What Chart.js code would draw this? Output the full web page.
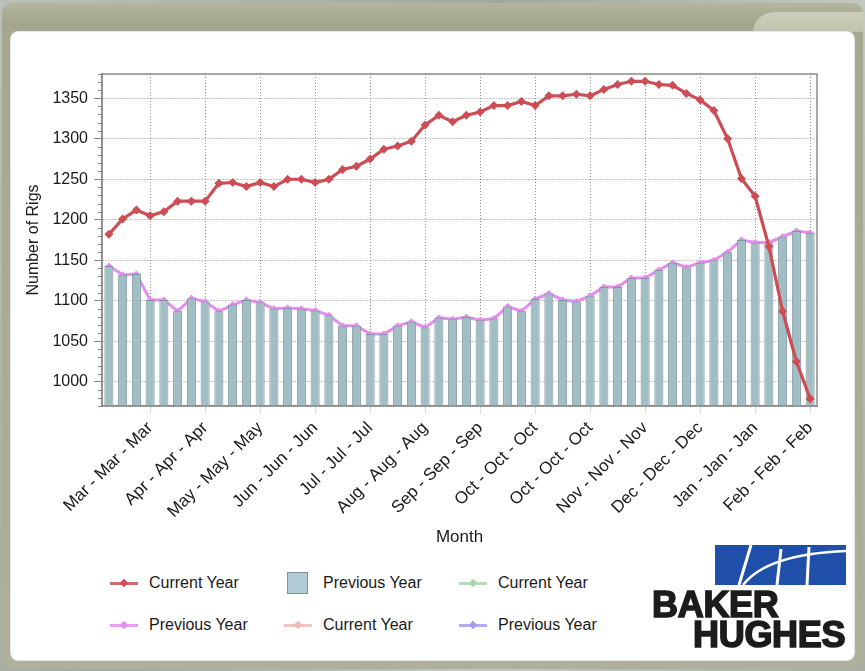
<!DOCTYPE html>
<html>
<head>
<meta charset="utf-8">
<script src="https://cdn.jsdelivr.net/npm/chart.js@4.4.1/dist/chart.umd.min.js"></script>
<style>
  html, body { margin: 0; padding: 0; }
  body {
    width: 865px; height: 671px; overflow: hidden; position: relative;
    background: linear-gradient(120deg, #b9c1b9, #9fa99f 40%, #c3c9c1 70%, #a6aea4);
    font-family: "Liberation Sans", Arial, sans-serif;
  }
  .frame {
    position: absolute; left: 2px; top: 3px; width: 861px; height: 666px;
    border-radius: 10px;
    background: linear-gradient(#b3b59e, #a2a48b 22px, #a5a790 30px, #aeb09b);
  }
  .tab {
    position: absolute; right: 0; top: 9px; width: 110px; height: 20px;
    border-top-left-radius: 22px 20px;
    background: linear-gradient(#cdcfbd, #bfc1ac);
  }
  .panel {
    position: absolute; left: 8px; top: 28px; width: 845px; height: 630px;
    background: #fff; border-radius: 8px;
    box-shadow: inset 0 0 2px rgba(0,0,0,0.35);
  }
  #chartBox { position: absolute; left: 0; top: 0; width: 865px; height: 560px; }
  #legend {
    position: absolute; left: 110px; top: 562px;
    display: grid; grid-template-columns: 174px 175px 175px; grid-auto-rows: 42px;
    font-size: 16px; color: #1a1a1a;
  }
  #legend .item { display: flex; align-items: center; white-space: nowrap; }
  #legend .mark { position: relative; width: 28px; height: 22px; margin-right: 11px; flex: none; }
  #legend .line::before {
    content: ''; position: absolute; left: 0; right: 0; top: 50%;
    height: 3px; margin-top: -1.5px; background: var(--c); opacity: 0.85;
  }
  #legend .line::after {
    content: ''; position: absolute; left: 50%; top: 50%; width: 6px; height: 6px;
    margin: -3px 0 0 -3px; background: var(--c); transform: rotate(45deg);
  }
  #legend .swatch span {
    position: absolute; left: 3px; top: 0; width: 19px; height: 20px;
    border: 1px solid; display: block;
  }
  .logo { position: absolute; left: 640px; top: 540px; width: 215px; height: 115px; }
  .logo svg { position: absolute; left: 75px; top: 5px; }
  .logo .word {
    position: absolute; font-family: "Liberation Sans", Arial, sans-serif;
    font-weight: 700; font-size: 36px; line-height: 36px; color: #1c1c1c;
    -webkit-text-stroke: 1.6px #1c1c1c; letter-spacing: -0.3px;
  }
</style>
</head>
<body>
<div class="frame"><div class="tab"></div><div class="panel"></div></div>
<div id="chartBox"><canvas id="rigChart"></canvas></div>
<div id="legend"></div>
<div class="logo">
  <svg width="131" height="40" viewBox="0 0 131 40">
    <rect x="0" y="0" width="131" height="40" fill="#1f4fa9"/>
    <path d="M24 40 L36 0" stroke="#fff" stroke-width="3" fill="none"/>
    <path d="M28 40 C45 18 80 8 131 6" stroke="#fff" stroke-width="2.5" fill="none"/>
    <path d="M62 40 L66 4" stroke="#fff" stroke-width="3" fill="none"/>
    <path d="M92 40 L94 2" stroke="#fff" stroke-width="3" fill="none"/>
  </svg>
  <div class="word" style="left:12px; top:47px;">BAKER</div>
  <div class="word" style="left:53px; top:77px;">HUGHES</div>
</div>
<script>
// Datos (número de equipos por semana)
const tickLabels = [
  'Mar - Mar - Mar', 'Apr - Apr - Apr', 'May - May - May', 'Jun - Jun - Jun',
  'Jul - Jul - Jul', 'Aug - Aug - Aug', 'Sep - Sep - Sep', 'Oct - Oct - Oct',
  'Oct - Oct - Oct', 'Nov - Nov - Nov', 'Dec - Dec - Dec', 'Jan - Jan - Jan',
  'Feb - Feb - Feb'
];

const currentYear = [
  1182, 1201, 1212, 1205, 1210, 1223, 1223, 1223, 1245, 1246, 1241, 1246, 1241,
  1250, 1250, 1246, 1250, 1262, 1266, 1275, 1287, 1291, 1297, 1317, 1329, 1321,
  1329, 1333, 1341, 1341, 1346, 1341, 1353, 1353, 1355, 1353, 1361, 1367, 1371,
  1371, 1367, 1366, 1356, 1348, 1335, 1300, 1251, 1229, 1167, 1087, 1025, 979
];

const previousYear = [
  1143, 1132, 1133, 1101, 1101, 1087, 1103, 1099, 1087, 1095, 1101, 1098, 1090,
  1091, 1090, 1088, 1082, 1069, 1069, 1059, 1059, 1069, 1074, 1067, 1079, 1077,
  1080, 1076, 1078, 1093, 1087, 1102, 1109, 1101, 1099, 1106, 1117, 1117, 1128,
  1128, 1138, 1147, 1141, 1147, 1150, 1160, 1175, 1172, 1172, 1179, 1186, 1184
];

// cada etiqueta cubre 4 semanas, se muestra en la cuarta
const weeks = currentYear.map((v, i) => tickLabels[Math.floor(i / 4)]);

const RED = '#cd4d55';
const PINK = '#e58cf0';
const GRID = '#8c8c8c';
const AXIS = '#8a8a8a';

Chart.defaults.font.family = '"Liberation Sans", Arial, sans-serif';
Chart.defaults.font.size = 16;
Chart.defaults.color = '#1a1a1a';

// Borde del área y marcas menores del eje Y
const frameBox = {
  id: 'frameBox',
  afterDraw(chart) {
    const { ctx, chartArea: a } = chart;
    const y = chart.scales.y;
    ctx.save();
    ctx.strokeStyle = AXIS;
    ctx.lineWidth = 1;
    y.ticks.forEach(t => {
      if (t.value % 50 !== 0) {
        const py = Math.round(y.getPixelForValue(t.value)) + 0.5;
        ctx.beginPath();
        ctx.moveTo(a.left - 4, py);
        ctx.lineTo(a.left, py);
        ctx.stroke();
      }
    });
    ctx.lineWidth = 1.5;
    ctx.strokeRect(a.left, a.top, a.right - a.left, a.bottom - a.top);
    ctx.restore();
  }
};

function buildLegend(chart) {
  const box = document.getElementById('legend');
  chart.data.datasets.forEach(ds => {
    const item = document.createElement('div');
    item.className = 'item';
    const mark = document.createElement('span');
    if (ds.type === 'bar') {
      mark.className = 'mark swatch';
      const sq = document.createElement('span');
      sq.style.background = '#b0cbd3';
      sq.style.borderColor = ds.borderColor;
      mark.appendChild(sq);
    } else {
      mark.className = 'mark line';
      mark.style.setProperty('--c', ds.borderColor);
    }
    const text = document.createElement('span');
    text.textContent = ds.label;
    item.appendChild(mark);
    item.appendChild(text);
    box.appendChild(item);
  });
}

function renderChart() {
  const ctx = document.getElementById('rigChart').getContext('2d');

  const chart = new Chart(ctx, {
    type: 'bar',
    data: {
      labels: weeks,
      datasets: [
        {
          type: 'line', label: 'Current Year', data: currentYear,
          borderColor: RED, backgroundColor: RED, borderWidth: 3.2,
          pointStyle: 'rectRot', pointRadius: 4.5, pointHoverRadius: 4.5,
          pointBorderWidth: 0, order: 0
        },
        {
          type: 'bar', label: 'Previous Year', data: previousYear,
          backgroundColor: '#a1bec4', borderColor: '#7c969b', borderWidth: 1,
          barPercentage: 0.66, categoryPercentage: 1, order: 1
        },
        {
          type: 'line', label: 'Current Year', data: [],
          borderColor: '#a3d8ab', backgroundColor: '#a3d8ab', order: 3
        },
        {
          type: 'line', label: 'Previous Year', data: previousYear,
          borderColor: PINK, backgroundColor: PINK, borderWidth: 3,
          pointStyle: 'rectRot', pointRadius: 3.5, pointHoverRadius: 3.5,
          pointBorderWidth: 0, order: 2
        },
        {
          type: 'line', label: 'Current Year', data: [],
          borderColor: '#f2b8b8', backgroundColor: '#f2b8b8', order: 3
        },
        {
          type: 'line', label: 'Previous Year', data: [],
          borderColor: '#a79bf0', backgroundColor: '#a79bf0', order: 3
        }
      ]
    },
    options: {
      responsive: true,
      maintainAspectRatio: false,
      animation: false,
      layout: { padding: { left: 20, right: 48, top: 74, bottom: 0 } },
      plugins: {
        legend: { display: false },
        tooltip: { enabled: false }
      },
      scales: {
        x: {
          offset: true,
          grid: {
            offset: false,
            color: c => (c.index % 4 === 3 ? GRID : 'rgba(0,0,0,0)'),
            tickColor: c => (c.index % 4 === 3 ? GRID : 'rgba(0,0,0,0)'),
            tickLength: 7,
            tickBorderDash: [1, 2]
          },
          border: { display: true, color: AXIS, width: 1.5, dash: [1, 2] },
          ticks: {
            autoSkip: false,
            maxRotation: 45,
            minRotation: 45,
            padding: 5,
            font: { size: 17 },
            callback: function (value, index) {
              return index % 4 === 3 ? this.getLabelForValue(value) : '';
            }
          },
          title: { display: true, text: 'Month', font: { size: 17 }, padding: { bottom: 12 } },
          afterFit: scale => { scale.height = 154; }
        },
        y: {
          min: 970,
          max: 1380,
          grid: {
            color: c => (c.tick && c.tick.value % 50 === 0 ? GRID : 'rgba(0,0,0,0)'),
            tickColor: c => (c.tick && c.tick.value % 50 === 0 ? AXIS : 'rgba(0,0,0,0)'),
            tickLength: 8
          },
          border: { display: true, color: AXIS, width: 1.5, dash: [1, 2] },
          ticks: {
            stepSize: 10,
            maxTicksLimit: 100,
            autoSkip: false,
            padding: 6,
            callback: v => (v % 50 === 0 ? String(v) : '')
          },
          title: { display: true, text: 'Number of Rigs', padding: { top: 4 } },
          afterFit: scale => { scale.width = 82; }
        }
      }
    },
    plugins: [frameBox]
  });

  buildLegend(chart);
}

document.addEventListener('DOMContentLoaded', () => {
  renderChart();
});
</script>
</body>
</html>
